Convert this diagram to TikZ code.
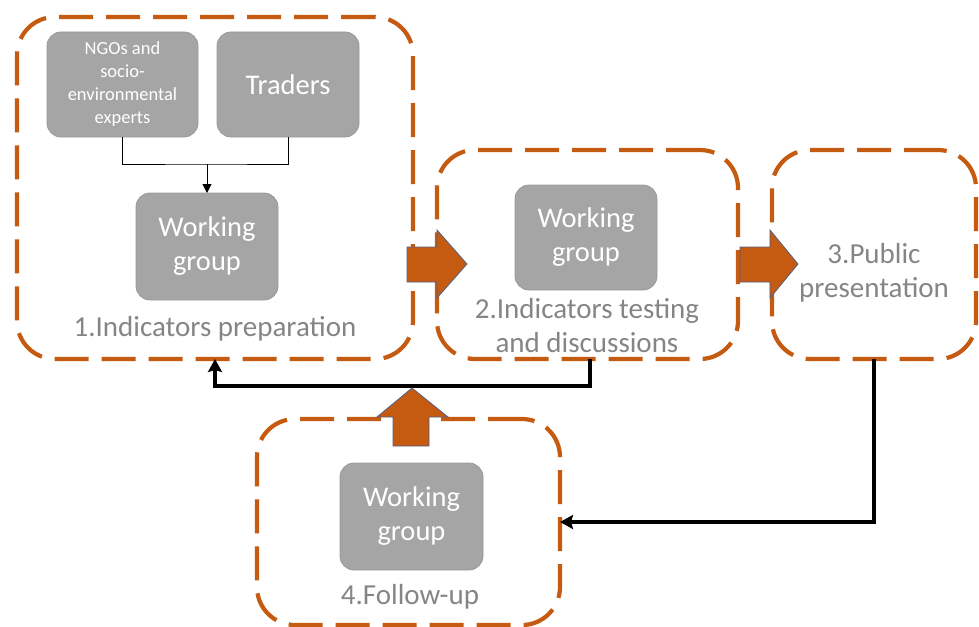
\documentclass[tikz,border=0pt]{standalone}
\usepackage{fontspec}
\setmainfont{Carlito}
\usetikzlibrary{arrows.meta}
\definecolor{orng}{HTML}{C55A11}
\definecolor{gbox}{HTML}{A5A5A5}
\definecolor{gedge}{HTML}{999999}
\definecolor{gtext}{HTML}{858585}
\definecolor{aline}{HTML}{51618A}
\begin{document}
\begin{tikzpicture}[x=1pt,y=-1pt,
  stage/.style={draw=orng, line width=4.2pt, dash pattern=on 34pt off 13pt,
    rounded corners=38pt, inner sep=0pt, outer sep=0pt},
  gray box/.style={fill=gbox, draw=gedge, line width=0.8pt, rounded corners=14pt,
    text=white, align=center, inner sep=2pt, outer sep=0pt,
    font=\fontsize{28.5}{34}\selectfont},
  small box/.style={gray box, font=\fontsize{18.5}{23}\selectfont},
  label text/.style={text=gtext, align=center, inner sep=0pt,
    font=\fontsize{29}{34}\selectfont},
  thin conn/.style={draw=black, line width=1pt, -{Triangle[length=9pt,width=9pt]}},
  thick conn/.style={draw=black, line width=3.6pt, -{Stealth[length=13pt,width=14pt,inset=2pt]}},
  block/.style={fill=orng, draw=aline, line width=0.8pt, line join=miter}
]
\useasboundingbox (0,0) rectangle (979,626);

% stage frames
\node[stage, minimum width=396pt, minimum height=342pt] (s1) at (215,188) {};
\node[stage, minimum width=301pt, minimum height=209pt] (s2) at (587.5,254.5) {};
\node[stage, minimum width=204pt, minimum height=209pt] (s3) at (874,254.5) {};
\node[stage, minimum width=303pt, minimum height=206pt] (s4) at (408.5,522) {};

% gray boxes
\node[small box, minimum width=151pt, minimum height=105pt] (ngo) at (122.5,84.5)
  {NGOs and\\socio-\\environmental\\experts};
\node[gray box, minimum width=142pt, minimum height=105pt] (tr) at (288,84.5) {Traders};
\node[gray box, minimum width=142pt, minimum height=107pt] (wg1) at (207,246.5) {Working\\group};
\node[gray box, minimum width=142pt, minimum height=105pt] (wg2) at (586,237.5) {Working\\group};
\node[gray box, minimum width=143pt, minimum height=107pt] (wg4) at (411.5,516.5) {Working\\group};

% stage labels
\node[label text] (l1) at (215,329) {1.Indicators preparation};
\node[label text] (l2) at (587,326) {2.Indicators testing\\and discussions};
\node[label text] (l3) at (874,273) {3.Public\\presentation};
\node[label text] (l4) at (410,597) {4.Follow-up};

% merge connector
\coordinate (m) at (207,164);
\draw[line width=1pt] (ngo.south) |- (m) -| (tr.south);
\draw[thin conn] (m) -- (wg1.north);

% feedback connectors
\coordinate (j1) at (590,386);
\draw[thick conn] (s2.south -| j1) -- (j1) -| (s1.south);
\draw[thick conn] (s3.south) |- (s4.east);

% block arrows
\filldraw[block] (407,247) -- (437,247) -- (437,230) -- (467,264) -- (437,298)
  -- (437,282) -- (407,282) -- cycle;
\filldraw[block] (740,247) -- (770,247) -- (770,230) -- (798,264) -- (770,298)
  -- (770,282) -- (740,282) -- cycle;
\filldraw[block] (393,446) -- (393,417) -- (377,417) -- (412,388) -- (448,417)
  -- (429,417) -- (429,446) -- cycle;
\end{tikzpicture}
\end{document}
